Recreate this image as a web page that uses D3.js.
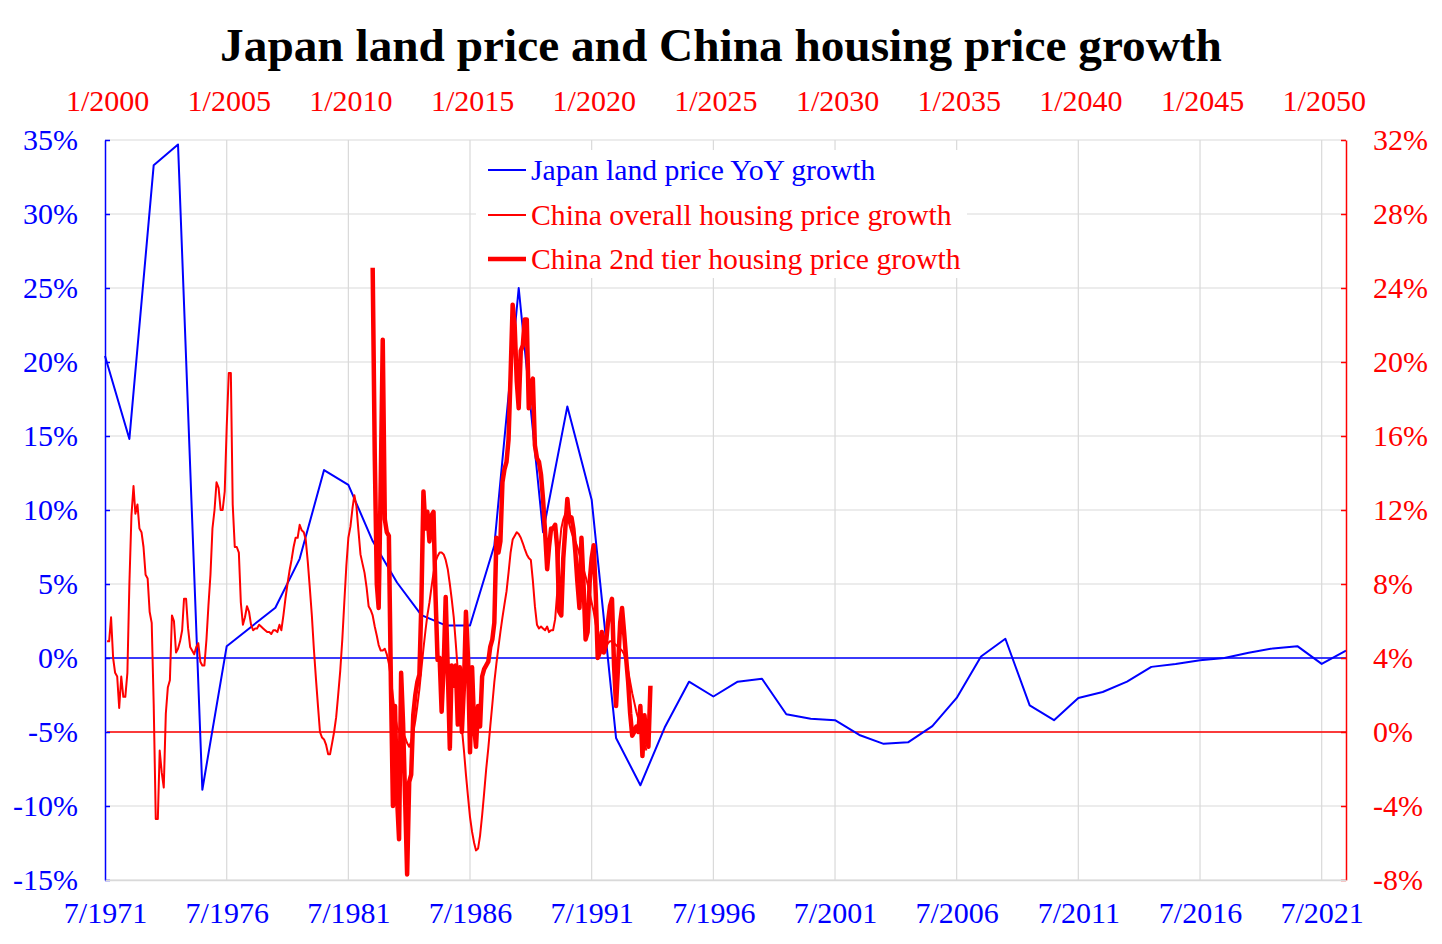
<!DOCTYPE html>
<html><head><meta charset="utf-8">
<script src="https://cdn.jsdelivr.net/npm/d3@7"></script>
<style>
body{margin:0;background:#fff}
svg{display:block}
text{font-family:"Liberation Serif","Times New Roman",serif}
</style>
</head><body>
<svg id="c" width="1442" height="944"></svg>
<script>
// ---------------- DATA ----------------
const chartTitle = "Japan land price and China housing price growth";

const japanYears = [1971,1972,1973,1974,1975,1976,1977,1978,1979,1980,1981,1982,1983,1984,1985,1986,1987,1988,1989,1990,
  1991,1992,1993,1994,1995,1996,1997,1998,1999,2000,2001,2002,2003,2004,2005,2006,2007,2008,2009,2010,
  2011,2012,2013,2014,2015,2016,2017,2018,2019,2020,2021,2022];
const japanGrowth = [20.4,14.8,33.3,34.7,-8.9,0.8,2.1,3.4,6.7,12.7,11.7,7.9,5.1,2.9,2.2,2.2,7.6,25.0,8.5,17.0,
  10.7,-5.4,-8.6,-4.7,-1.6,-2.6,-1.6,-1.4,-3.8,-4.1,-4.2,-5.2,-5.8,-5.7,-4.6,-2.7,0.1,1.3,-3.2,-4.2,
  -2.7,-2.3,-1.6,-0.6,-0.4,-0.15,0.0,0.35,0.65,0.8,-0.4,0.5];

// China overall housing price growth, monthly from 2000-01
const chinaOverallStart = [2000, 1];
const chinaOverall = [
  4.9,4.9,6.2,4.0,3.2,3.0,1.3,3.0,1.9,1.9,3.2,8.0,
  11.7,13.3,11.8,12.3,11.0,10.8,10.0,8.5,8.3,6.5,5.9,1.5,
  -4.7,-4.7,-1.0,-2.2,-3.0,1.0,2.4,2.8,6.3,6.0,4.3,4.5,
  4.9,5.5,7.2,7.2,5.6,4.6,4.4,4.2,4.6,4.8,3.8,3.6,
  3.6,5.0,6.8,8.5,11.0,12.0,13.5,13.2,12.0,12.0,13.0,16.5,
  19.4,19.4,12.3,10.0,10.0,9.7,7.0,5.8,6.2,6.8,6.5,5.8,
  5.5,5.6,5.6,5.8,5.7,5.6,5.5,5.4,5.4,5.3,5.5,5.5,
  5.4,5.8,5.5,6.3,7.2,8.0,8.7,9.3,10.0,10.5,10.5,11.2,
  10.9,10.8,10.4,9.2,7.8,6.3,4.5,2.9,1.4,0.0,-0.3,-0.4,
  -0.7,-1.2,-1.2,-0.6,0.0,0.8,2.0,3.3,5.0,7.0,9.0,10.5,
  11.1,12.1,12.8,12.2,10.9,9.6,9.1,8.6,7.8,6.8,6.6,6.3,
  5.7,5.2,4.7,4.4,4.4,4.5,4.2,3.7,2.9,1.9,0.9,0.3,
  0.0,-0.1,-0.1,-0.3,-0.6,-0.8,-0.5,0.0,0.6,1.4,2.3,3.4,
  4.5,5.5,6.3,7.0,7.8,8.6,9.2,9.5,9.7,9.7,9.6,9.3,
  8.8,8.0,7.2,6.2,4.8,3.3,1.8,0.2,-1.0,-2.3,-3.5,-4.6,
  -5.4,-6.0,-6.4,-6.3,-5.6,-4.5,-3.3,-2.0,-0.9,0.3,1.5,2.7,
  3.7,4.6,5.4,6.2,6.9,7.6,8.6,9.7,10.4,10.6,10.8,10.7,
  10.5,10.2,9.9,9.6,9.4,9.3,8.2,6.8,5.8,5.6,5.7,5.6,
  5.5,5.7,5.4,5.5,5.5,6.1,7.5,9.8,11.0,11.5,11.8,11.6,
  11.2,10.8,10.5,10.3,10.0,9.6,9.2,8.8,8.4,8.0,7.5,7.0,
  6.5,5.8,5.2,4.6,4.3,4.4,4.6,4.8,4.9,4.9,4.8,4.7,
  4.6,4.5,4.4,4.2,3.8,3.3,2.7,2.1,1.6,1.1,0.7,0.3,
  -0.2,-0.6,-1.0
];

// China 2nd tier housing price growth, monthly from 2010-12
const chinaTier2Start = [2010, 12];
const chinaTier2 = [
  25.1,15.0,
  8.0,6.7,13.5,21.2,11.5,10.8,10.6,2.5,-4.0,1.4,-3.5,-5.8,
  3.2,0.5,-3.6,-7.7,-2.7,-2.3,0.9,2.0,2.7,3.1,7.0,13.0,
  11.0,11.9,10.3,11.7,11.9,7.4,3.9,4.0,1.1,3.6,7.3,3.4,
  -0.9,3.6,2.5,3.6,0.4,3.5,0.0,2.5,6.5,4.0,-1.1,3.5,
  0.3,-0.8,1.4,0.3,3.0,3.4,3.6,3.8,4.6,5.0,5.9,10.5,
  9.7,10.3,13.5,14.2,14.6,15.8,19.3,23.1,22.0,19.0,17.5,20.6,
  20.9,22.3,22.3,17.5,18.8,19.1,15.5,14.8,14.6,13.9,12.6,10.8,
  8.8,10.0,11.0,11.0,11.2,10.0,6.5,6.3,9.4,11.0,12.6,11.4,
  11.6,11.0,9.7,8.1,6.7,10.5,8.0,5.0,5.4,8.1,9.4,10.1,
  7.4,4.0,4.3,5.4,4.3,4.7,5.9,6.8,7.2,3.6,1.4,3.6,
  5.9,6.7,5.4,4.0,2.7,1.0,-0.2,0.0,0.3,0.0,1.4,-1.3,
  0.9,-0.3,-0.8,2.5
];

const leftTicks = [-15,-10,-5,0,5,10,15,20,25,30,35];
const rightTicks = [-8,-4,0,4,8,12,16,20,24,28,32];
const bottomTickLabels = ["7/1971","7/1976","7/1981","7/1986","7/1991","7/1996","7/2001","7/2006","7/2011","7/2016","7/2021"];
const topTickLabels = ["1/2000","1/2005","1/2010","1/2015","1/2020","1/2025","1/2030","1/2035","1/2040","1/2045","1/2050"];
const legendLabels = ["Japan land price YoY growth","China overall housing price growth","China 2nd tier housing price growth"];

// ---------------- CHART ----------------
const BLUE = "#0000ff", RED = "#ff0000", GRID = "#d9d9d9";
const L = 105, R = 1346, T = 140, B = 880;
const svg = d3.select("#c");

const parseLabel = s => { const [m, y] = s.split("/").map(Number); return new Date(y, m - 1, 1); };
const xB = d3.scaleTime().domain([new Date(1971,6,1), new Date(2022,6,1)]).range([L, R]);
const xT = d3.scaleTime().domain([new Date(1999,11,1), new Date(2050,11,1)]).range([L, R]);
const yL = d3.scaleLinear().domain([-15,35]).range([B, T]);
const yR = d3.scaleLinear().domain([-8,32]).range([B, T]);

const bottomDates = bottomTickLabels.map(parseLabel);
const topDates = topTickLabels.map(parseLabel);

// grid
const g = svg.append("g");
g.selectAll("line.h").data(leftTicks).join("line")
  .attr("x1", L).attr("x2", R).attr("y1", d => yL(d)).attr("y2", d => yL(d))
  .attr("stroke", GRID).attr("stroke-width", 1.2);
g.selectAll("line.v").data(bottomDates.slice(1)).join("line")
  .attr("x1", d => xB(d)).attr("x2", d => xB(d)).attr("y1", T).attr("y2", B)
  .attr("stroke", GRID).attr("stroke-width", 1.2);

// reference zero lines
svg.append("line").attr("x1", L).attr("x2", R).attr("y1", yL(0)).attr("y2", yL(0))
  .attr("stroke", BLUE).attr("stroke-width", 1.5);
svg.append("line").attr("x1", xT(new Date(2000,0,1))).attr("x2", R).attr("y1", yR(0)).attr("y2", yR(0))
  .attr("stroke", RED).attr("stroke-width", 1.5);

// series
const japanData = japanYears.map((y, i) => ({d: new Date(y, 6, 1), v: japanGrowth[i]}));
const monthly = (start, arr) => arr.map((v, i) => ({d: new Date(start[0], start[1] - 1 + i, 1), v}));
const overallData = monthly(chinaOverallStart, chinaOverall);
const tier2Data = monthly(chinaTier2Start, chinaTier2);

svg.append("path").datum(japanData)
  .attr("d", d3.line().x(p => xB(p.d)).y(p => yL(p.v)))
  .attr("fill", "none").attr("stroke", BLUE).attr("stroke-width", 2).attr("stroke-linejoin", "round");
svg.append("path").datum(overallData)
  .attr("d", d3.line().x(p => xT(p.d)).y(p => yR(p.v)))
  .attr("fill", "none").attr("stroke", RED).attr("stroke-width", 2).attr("stroke-linejoin", "round");
svg.append("path").datum(tier2Data)
  .attr("d", d3.line().x(p => xT(p.d)).y(p => yR(p.v)))
  .attr("fill", "none").attr("stroke", RED).attr("stroke-width", 4.5).attr("stroke-linejoin", "round");

// axes
const FS = "30px";
const axL = svg.append("g").attr("transform", `translate(${L},0)`)
  .call(d3.axisLeft(yL).tickValues(leftTicks).tickFormat(d => d + "%").tickSizeInner(-5).tickSizeOuter(0).tickPadding(27));
axL.select(".domain").attr("stroke", BLUE).attr("stroke-width", 1.5);
axL.selectAll(".tick line").attr("stroke", BLUE).attr("stroke-width", 1.5);
axL.selectAll("text").attr("fill", BLUE).style("font-size", FS).style("font-family", '"Liberation Serif",serif');

const axR = svg.append("g").attr("transform", `translate(${R},0)`)
  .call(d3.axisRight(yR).tickValues(rightTicks).tickFormat(d => d + "%").tickSizeInner(-5).tickSizeOuter(0).tickPadding(27));
axR.select(".domain").attr("stroke", RED).attr("stroke-width", 1.5);
axR.selectAll(".tick line").attr("stroke", RED).attr("stroke-width", 1.5);
axR.selectAll("text").attr("fill", RED).style("font-size", FS).style("font-family", '"Liberation Serif",serif');

const axB = svg.append("g").attr("transform", `translate(0,${B})`)
  .call(d3.axisBottom(xB).tickValues(bottomDates).tickFormat((d, i) => bottomTickLabels[i]).tickSize(0).tickPadding(22));
axB.select(".domain").attr("stroke", GRID).attr("stroke-width", 1.5);
axB.selectAll("text").attr("fill", BLUE).style("font-size", FS).style("font-family", '"Liberation Serif",serif');

const axT = svg.append("g").attr("transform", `translate(0,${T})`)
  .call(d3.axisTop(xT).tickValues(topDates).tickFormat((d, i) => topTickLabels[i]).tickSize(0).tickPadding(29));
axT.select(".domain").remove();
axT.selectAll("text").attr("fill", RED).style("font-size", FS).style("font-family", '"Liberation Serif",serif');

// legend
const lg = svg.append("g");
lg.append("rect").attr("x", 476).attr("y", 150).attr("width", 491).attr("height", 128).attr("fill", "#fff");
const legendStyles = [{c: BLUE, w: 2}, {c: RED, w: 2}, {c: RED, w: 4.5}];
const legendY = [170, 215, 259];
legendLabels.forEach((lab, i) => {
  lg.append("line").attr("x1", 488).attr("x2", 526).attr("y1", legendY[i]).attr("y2", legendY[i])
    .attr("stroke", legendStyles[i].c).attr("stroke-width", legendStyles[i].w);
  lg.append("text").attr("x", 531).attr("y", legendY[i]).attr("dy", "0.35em")
    .attr("fill", legendStyles[i].c).style("font-size", "29.7px").text(lab);
});

// title
const title = svg.append("text").attr("x", 721).attr("y", 61).attr("text-anchor", "middle")
  .style("font-weight", "bold").style("font-size", "42px").attr("fill", "#000").text(chartTitle);
const tw = title.node().getComputedTextLength();
title.style("font-size", (42 * 1002 / tw) + "px");
</script>
</body></html>
